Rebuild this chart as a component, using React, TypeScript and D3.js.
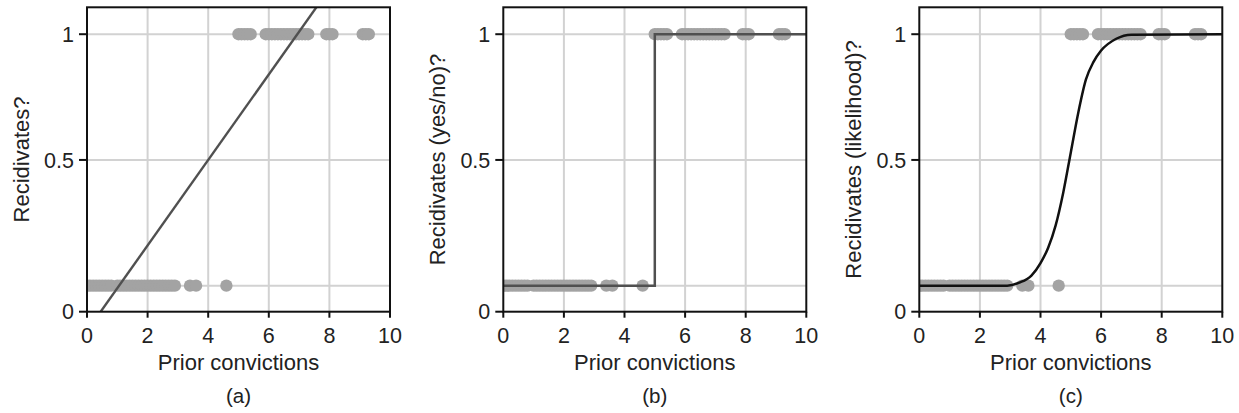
import React from "react";
import * as d3 from "d3";

// tick values and labels
const xTicks = [0, 2, 4, 6, 8, 10];
const yGrid = [0, 0.5, 1];
const yTickLabels = ["0", "0.5", "1"];

// observations: prior convictions of people who did not / did recidivate
const noRecid = [
  0, 0.1, 0.2, 0.3, 0.4, 0.5, 0.6, 0.7, 0.8, 1.0, 1.1, 1.2, 1.3, 1.4, 1.5, 1.6,
  1.7, 1.8, 1.9, 2.0, 2.1, 2.2, 2.3, 2.4, 2.5, 2.6, 2.7, 2.8, 2.9, 3.4, 3.6, 4.6,
];
const recid = [
  5.0, 5.1, 5.2, 5.3, 5.4, 5.9, 6.0, 6.1, 6.2, 6.3, 6.4, 6.5, 6.6, 6.7, 6.8,
  6.9, 7.0, 7.1, 7.2, 7.3, 7.9, 8.0, 8.1, 9.1, 9.2, 9.3,
];

// fitted models
const linearFit = [
  { x: 0, y: -0.18 },
  { x: 10, y: 1.52 },
];
const stepFit = [
  { x: 0, y: 0 },
  { x: 5, y: 0 },
  { x: 5, y: 1 },
  { x: 10, y: 1 },
];
const logisticFit = [
  { x: 0, y: 0 },
  { x: 2.9, y: 0 },
  { x: 3.3, y: 0.012 },
  { x: 3.7, y: 0.04 },
  { x: 4.0, y: 0.09 },
  { x: 4.25, y: 0.15 },
  { x: 4.5, y: 0.24 },
  { x: 4.75, y: 0.37 },
  { x: 5.0, y: 0.53 },
  { x: 5.25, y: 0.69 },
  { x: 5.5, y: 0.82 },
  { x: 5.75, y: 0.89 },
  { x: 6.0, y: 0.935 },
  { x: 6.5, y: 0.982 },
  { x: 7.0, y: 0.998 },
  { x: 10, y: 1 },
];

const panelNames = ["(a)", "(b)", "(c)"];
const yLabels = ["Recidivates?", "Recidivates (yes/no)?", "Recidivates (likelihood)?"];
const xLabel = "Prior convictions";

const font = "'Liberation Sans', Arial, Helvetica, sans-serif";
const W = 303;
const top = 7.3;
const bottom = 311.7;

const panels = [
  { left: 87, fit: linearFit, color: "#505050", width: 2.4, curve: d3.curveLinear },
  { left: 503.3, fit: stepFit, color: "#505050", width: 2.5, curve: d3.curveLinear },
  { left: 919.3, fit: logisticFit, color: "#111", width: 2.5, curve: d3.curveMonotoneX },
];

function Panel({ i }: { i: number }) {
  const p = panels[i];
  const x = d3.scaleLinear().domain([0, 10]).range([p.left, p.left + W]);
  const y = d3.scaleLinear().domain([-0.1035, 1.107]).range([bottom, top]);
  const line = d3
    .line<{ x: number; y: number }>()
    .x((d) => x(d.x))
    .y((d) => y(d.y))
    .curve(p.curve);
  const yTickPos = [y.domain()[0], 0.5, 1];
  const cx = p.left + W / 2;
  const cy = (top + bottom) / 2;
  const clipId = `clip-${i}`;
  const ptColor = "#a3a3a3";
  return (
    <g>
      <defs>
        <clipPath id={clipId}>
          <rect x={p.left} y={top} width={W} height={bottom - top} />
        </clipPath>
      </defs>
      {xTicks.slice(1, -1).map((t) => (
        <line key={"gx" + t} x1={x(t)} x2={x(t)} y1={top} y2={bottom} stroke="#d2d2d2" strokeWidth={2} />
      ))}
      {yGrid.map((t) => (
        <line key={"gy" + t} x1={p.left} x2={p.left + W} y1={y(t)} y2={y(t)} stroke="#d2d2d2" strokeWidth={2} />
      ))}
      <g clipPath={`url(#${clipId})`}>
        {noRecid.map((v, k) => (
          <circle key={"n" + k} cx={x(v)} cy={y(0)} r={6.2} fill={ptColor} />
        ))}
        {recid.map((v, k) => (
          <circle key={"r" + k} cx={x(v)} cy={y(1)} r={6.2} fill={ptColor} />
        ))}
        <path d={line(p.fit) || ""} fill="none" stroke={p.color} strokeWidth={p.width} />
      </g>
      <rect x={p.left} y={top} width={W} height={bottom - top} fill="none" stroke="#111" strokeWidth={2} />
      {xTicks.map((t) => (
        <g key={"xt" + t}>
          <line x1={x(t)} x2={x(t)} y1={bottom} y2={bottom + 6} stroke="#111" strokeWidth={2} />
          <text x={x(t)} y={343} textAnchor="middle" fontSize={21.5} fill="#222">
            {t}
          </text>
        </g>
      ))}
      {yTickPos.map((v, k) => (
        <g key={"yt" + k}>
          <line x1={p.left - 8} x2={p.left} y1={y(v)} y2={y(v)} stroke="#111" strokeWidth={2} />
          <text x={p.left - 13} y={y(v)} dy="0.36em" textAnchor="end" fontSize={21.5} fill="#222">
            {yTickLabels[k]}
          </text>
        </g>
      ))}
      <text x={cx} y={370} textAnchor="middle" fontSize={22} fill="#222">
        {xLabel}
      </text>
      <text
        transform={`translate(${p.left - 58},${cy}) rotate(-90)`}
        textAnchor="middle"
        fontSize={22}
        fill="#222"
      >
        {yLabels[i]}
      </text>
      <text x={cx} y={403} textAnchor="middle" fontSize={20.5} fill="#222">
        {panelNames[i]}
      </text>
    </g>
  );
}

export default function App() {
  return (
    <svg
      width={1239}
      height={413}
      style={{ position: "absolute", left: 0, top: 0, background: "#fff", fontFamily: font }}
    >
      {panels.map((_, i) => (
        <Panel key={i} i={i} />
      ))}
    </svg>
  );
}
